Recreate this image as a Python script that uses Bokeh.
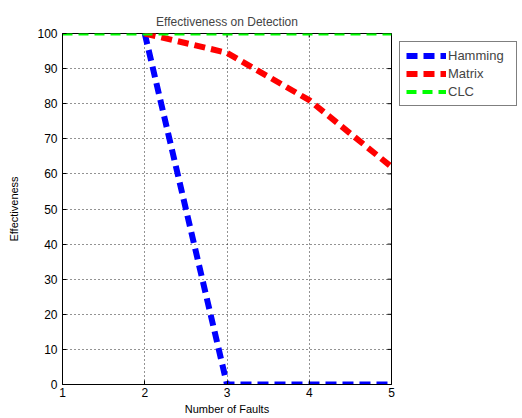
from bokeh.plotting import figure
from bokeh.models import Legend, LegendItem, FixedTicker, Range1d
from bokeh.embed import file_html
from bokeh.resources import INLINE

faults = [1, 2, 3, 4, 5]
faults_hm = [2, 3, 4, 5]
hamming = [100, 0, 0, 0]
matrix = [100, 94.5, 81, 62]
clc = [100, 100, 100, 100, 100]
x_ticks = [1, 2, 3, 4, 5]
y_ticks = [0, 10, 20, 30, 40, 50, 60, 70, 80, 90, 100]

FONT = "Liberation Sans"

p = figure(frame_width=329, frame_height=351, output_backend="svg", toolbar_location=None,
           x_range=Range1d(1, 5), y_range=Range1d(0, 100),
           min_border_left=62, min_border_right=0, min_border_top=33, min_border_bottom=32)
p.title.text = "Effectiveness on Detection"
p.title.align = "center"
p.title.text_font = FONT
p.title.text_font_style = "normal"
p.title.text_font_size = "12px"
p.title.offset = 0
p.title.standoff = 10

p.outline_line_color = "black"
p.outline_line_width = 1

for ax in (p.xaxis[0], p.yaxis[0]):
    ax.major_tick_in = 4
    ax.major_tick_out = 0
    ax.minor_tick_in = 0
    ax.minor_tick_out = 0
    ax.axis_line_color = "black"
    ax.major_label_text_font = FONT
    ax.major_label_text_font_size = "12px"
    ax.major_label_text_color = "black"
    ax.axis_label_text_font = FONT
    ax.axis_label_text_font_size = "11px"
    ax.axis_label_text_font_style = "normal"
    ax.axis_label_text_color = "black"
p.xaxis[0].ticker = FixedTicker(ticks=x_ticks)
p.yaxis[0].ticker = FixedTicker(ticks=y_ticks)
p.xaxis[0].axis_label = "Number of Faults"
p.yaxis[0].axis_label = "Effectiveness"
p.xaxis[0].major_label_standoff = 3
p.xaxis[0].axis_label_standoff = 3
p.yaxis[0].major_label_standoff = 5
p.yaxis[0].axis_label_standoff = 14

# inward ticks on the right and top edges of the box
p.scatter([5] * len(y_ticks), y_ticks, marker="dash", size=8, line_color="black", line_width=1)
p.scatter(x_ticks, [100] * len(x_ticks), marker="dash", angle=1.5708, size=8,
          line_color="black", line_width=1)

p.xgrid.ticker = FixedTicker(ticks=x_ticks)
p.ygrid.ticker = FixedTicker(ticks=y_ticks)
for g in (p.xgrid[0], p.ygrid[0]):
    g.grid_line_color = "black"
    g.grid_line_alpha = 0.85
    g.grid_line_dash = "1 3"
    g.grid_line_width = 1

h = p.line(faults_hm, hamming, line_color="#0000ff", line_width=6, line_dash="11 6")
m = p.line(faults_hm, matrix, line_color="#ff0000", line_width=6, line_dash="11 6")
c = p.line(faults, clc, line_color="#00ff00", line_width=4, line_dash="10 6")

legend = Legend(items=[LegendItem(label="Hamming", renderers=[h]),
                       LegendItem(label="Matrix", renderers=[m]),
                       LegendItem(label="CLC", renderers=[c])],
                location="top_left", orientation="vertical",
                border_line_color="black", border_line_width=1,
                background_fill_color="white", background_fill_alpha=1,
                label_text_font=FONT, label_text_font_size="13px",
                glyph_width=40, glyph_height=15, label_standoff=2,
                spacing=3, padding=6, margin=8, label_height=15, label_width=62)
p.add_layout(legend, "right")

open("out.html", "w").write(file_html(p, INLINE))
